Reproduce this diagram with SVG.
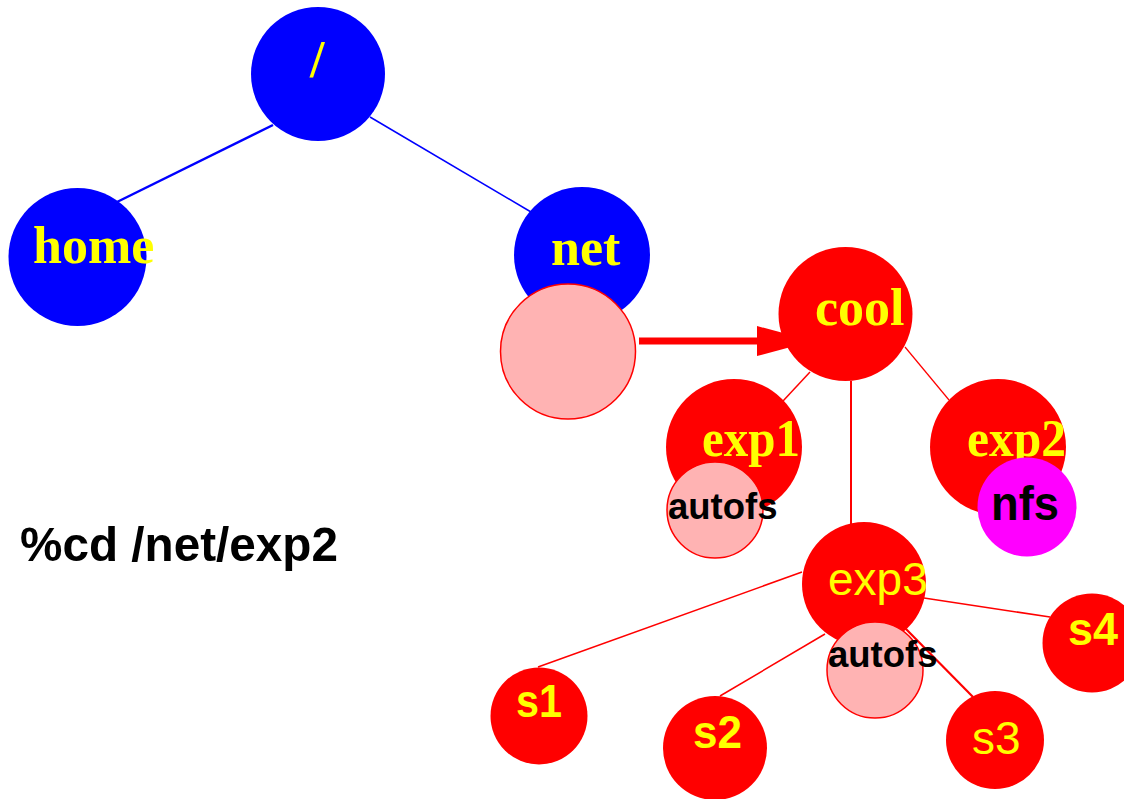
<svg xmlns="http://www.w3.org/2000/svg" width="1124" height="799" viewBox="0 0 1124 799">
<style>
.blue{fill:#0000ff}
.red{fill:#ff0000}
.pink{fill:#ffb3b3;stroke:#ff0000;stroke-width:1.5}
.mag{fill:#ff00ff}
.serif{font-family:"Liberation Serif","Times New Roman",serif;font-weight:bold;fill:#ffff00;font-size:52px}
.sansb{font-family:"Liberation Sans",Arial,sans-serif;font-weight:bold}
.sans{font-family:"Liberation Sans",Arial,sans-serif}
.y{fill:#ffff00}
.k{fill:#000000}
.bl{stroke:#0000ff;fill:none}
.rl{stroke:#ff0000;fill:none}
</style>
<rect width="1124" height="799" fill="#ffffff"/>
<g id="connectors">
<line class="bl" x1="273" y1="125" x2="117" y2="202" stroke-width="2.5"/>
<line class="bl" x1="370" y1="117" x2="531" y2="212" stroke-width="1.5"/>
<line class="rl" x1="810" y1="372" x2="783" y2="401" stroke-width="1.5"/>
<line class="rl" x1="905" y1="347" x2="949" y2="400" stroke-width="1.2"/>
<line class="rl" x1="851" y1="381" x2="851" y2="525" stroke-width="2"/>
<line class="rl" x1="802" y1="572" x2="538" y2="667" stroke-width="1.5"/>
<line class="rl" x1="825" y1="634" x2="720" y2="696" stroke-width="1.5"/>
<line class="rl" x1="905" y1="628" x2="973" y2="697" stroke-width="2.2"/>
<line class="rl" x1="924" y1="598" x2="1050" y2="617" stroke-width="1.5"/>
<line class="rl" x1="639" y1="341" x2="762" y2="341" stroke-width="7"/>
<polygon class="red" points="757,326 813,341 757,356"/>
</g>
<g id="root">
<circle class="blue" cx="318" cy="74" r="67"/>
<text class="serif" x="310" y="77">/</text>
</g>
<g id="home">
<circle class="blue" cx="77.5" cy="257" r="69"/>
<text class="serif" x="33" y="263">home</text>
</g>
<g id="net">
<circle class="blue" cx="582" cy="255" r="68"/>
<text class="serif" x="551" y="265">net</text>
</g>
<g id="net-mount">
<circle class="pink" cx="568" cy="351.5" r="67.5"/>
</g>
<g id="cool">
<circle class="red" cx="845.5" cy="314" r="67"/>
<text class="serif" x="815" y="325">cool</text>
</g>
<g id="exp1">
<circle class="red" cx="734" cy="447" r="68"/>
<text class="serif" x="702" y="456" font-size="50" textLength="98" lengthAdjust="spacingAndGlyphs">exp1</text>
</g>
<g id="exp1-autofs">
<circle class="pink" cx="715" cy="510" r="48"/>
<text class="sansb k" x="668" y="519" font-size="36.5">autofs</text>
</g>
<g id="exp2">
<circle class="red" cx="998" cy="447" r="68"/>
<text class="serif" x="967" y="456" font-size="50" textLength="99" lengthAdjust="spacingAndGlyphs">exp2</text>
</g>
<g id="exp2-nfs">
<circle class="mag" cx="1027" cy="507" r="49.5"/>
<text class="sansb k" x="991" y="520" font-size="48" textLength="68" lengthAdjust="spacingAndGlyphs">nfs</text>
</g>
<g id="exp3">
<circle class="red" cx="864" cy="584" r="62"/>
<text class="sans y" x="828" y="595" font-size="46">exp3</text>
</g>
<g id="exp3-autofs">
<circle class="pink" cx="875" cy="670" r="48"/>
<text class="sansb k" x="828" y="667" font-size="36.5">autofs</text>
</g>
<g id="s1">
<circle class="red" cx="539" cy="716" r="48.5"/>
<text class="sansb y" x="516" y="717" font-size="47" textLength="46" lengthAdjust="spacingAndGlyphs">s1</text>
</g>
<g id="s2">
<circle class="red" cx="715" cy="748" r="52"/>
<text class="sansb y" x="693" y="748" font-size="47" textLength="49" lengthAdjust="spacingAndGlyphs">s2</text>
</g>
<g id="s3">
<circle class="red" cx="995" cy="740" r="49"/>
<text class="sans y" x="972" y="754" font-size="46">s3</text>
</g>
<g id="s4">
<circle class="red" cx="1092" cy="643" r="49.5"/>
<text class="sansb y" x="1068" y="645" font-size="47" textLength="50" lengthAdjust="spacingAndGlyphs">s4</text>
</g>
<g id="command">
<text class="sansb k" x="20" y="561" font-size="49" textLength="318" lengthAdjust="spacingAndGlyphs">%cd /net/exp2</text>
</g>
</svg>
